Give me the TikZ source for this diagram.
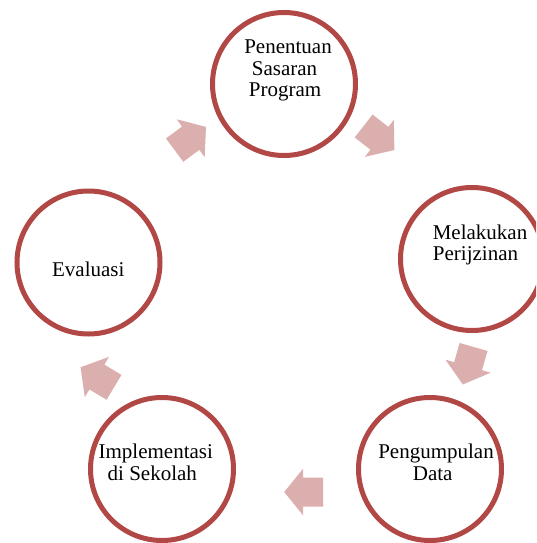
\documentclass[tikz,border=0pt]{standalone}
\usepackage{fontspec}
\setmainfont{Liberation Serif}
\definecolor{ringred}{RGB}{178,72,70}
\definecolor{arrowpink}{RGB}{220,175,175}
\tikzset{
  ring/.style={circle, draw=ringred, line width=5pt, minimum size=143pt, inner sep=0pt},
  lbl/.style={anchor=base, inner sep=0pt, font=\fontsize{21}{21}\selectfont},
  blockarrow/.style={fill=arrowpink, draw=none}
}
\newcommand{\blockarr}[3]{%
  \begin{scope}[shift={(#1,#2)}, rotate=#3]
    \fill[blockarrow] (-19.5,-14.5) -- (0.5,-14.5) -- (0.5,-23.5) -- (19.5,0)
      -- (0.5,23.5) -- (0.5,14.5) -- (-19.5,14.5) -- cycle;
  \end{scope}}
\begin{document}
\begin{tikzpicture}[x=1pt, y=-1pt]
\clip (0,0) rectangle (536,543);
\fill[white] (0,0) rectangle (536,543);
% circles
\node[ring] (c1) at (284,84) {};
\node[ring] (c2) at (472,259) {};
\node[ring] (c3) at (430,469) {};
\node[ring] (c4) at (162,469) {};
\node[ring] (c5) at (88.5,262.5) {};
% labels
\node[lbl] (t1a) at (288,53.5) {Penentuan};
\node[lbl] (t1b) at (284.5,75) {Sasaran};
\node[lbl] (t1c) at (285,96.5) {Program};
\node[lbl] (t2a) at (480,239) {Melakukan};
\node[lbl] (t2b) at (475.5,260) {Perijzinan};
\node[lbl] (t3a) at (436,458) {Pengumpulan};
\node[lbl] (t3b) at (432.7,480) {Data};
\node[lbl] (t4a) at (155.8,458.3) {Implementasi};
\node[lbl] (t4b) at (152.3,480.7) {di Sekolah};
\node[lbl] (t5a) at (88.3,276) {Evaluasi};
% block arrows
\blockarr{190.3}{138.5}{36.5}
\blockarr{379}{138}{-38}
\blockarr{468.2}{365.7}{-106}
\blockarr{303.7}{492}{180}
\blockarr{97.3}{377.3}{149}
\end{tikzpicture}
\end{document}
